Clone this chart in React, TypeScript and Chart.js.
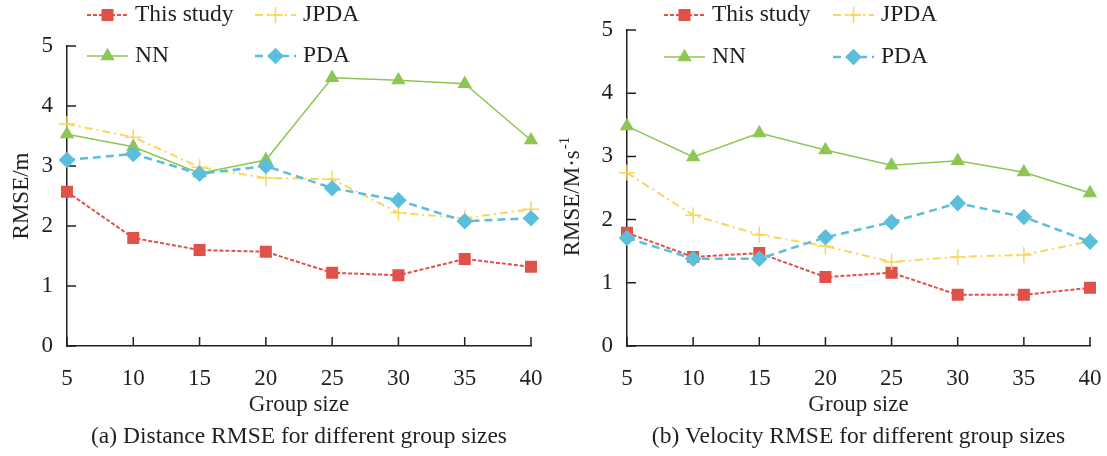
import React, { useEffect, useRef } from 'react';
import { Chart, registerables } from 'chart.js';
Chart.register(...registerables);

const groupSizes = ['5', '10', '15', '20', '25', '30', '35', '40'];
const seriesNames = ['This study', 'JPDA', 'NN', 'PDA'];

const distThisStudy = [2.57, 1.8, 1.6, 1.57, 1.22, 1.18, 1.45, 1.32];
const distJPDA = [3.7, 3.48, 2.98, 2.8, 2.78, 2.22, 2.13, 2.28];
const distNN = [3.53, 3.32, 2.88, 3.1, 4.47, 4.43, 4.37, 3.43];
const distPDA = [3.1, 3.2, 2.87, 3.0, 2.63, 2.43, 2.08, 2.13];

const velThisStudy = [1.79, 1.41, 1.47, 1.09, 1.16, 0.81, 0.81, 0.92];
const velJPDA = [2.74, 2.07, 1.76, 1.58, 1.33, 1.41, 1.44, 1.66];
const velNN = [3.48, 2.99, 3.37, 3.1, 2.86, 2.93, 2.75, 2.42];
const velPDA = [1.71, 1.38, 1.38, 1.72, 1.96, 2.26, 2.04, 1.65];

const FONT = '"Liberation Serif", "Times New Roman", serif';
const TEXT = '#231F20';
const FS = 23.5;

const styles = [
  { color: '#E0514A', dash: [4, 2], width: 2, point: 'rect', radius: 8.5, order: 3 },
  { color: '#FCD55A', dash: [8, 4, 2, 4], width: 2, point: 'cross', radius: 8, order: 2 },
  { color: '#8DC653', dash: [], width: 1.5, point: 'triangle', radius: 8.3, order: 1 },
  { color: '#5BBFDB', dash: [8, 5], width: 2.5, point: 'rectRot', radius: 8.3, order: 0 },
];

function drawMarker(ctx: CanvasRenderingContext2D, st: any, x: number, y: number) {
  const r = st.radius;
  ctx.save();
  ctx.setLineDash([]);
  ctx.fillStyle = st.color;
  ctx.strokeStyle = st.color;
  ctx.beginPath();
  if (st.point === 'rect') {
    const s = r * Math.SQRT1_2;
    ctx.rect(x - s, y - s, 2 * s, 2 * s);
    ctx.fill();
  } else if (st.point === 'rectRot') {
    ctx.moveTo(x, y - r);
    ctx.lineTo(x + r, y);
    ctx.lineTo(x, y + r);
    ctx.lineTo(x - r, y);
    ctx.closePath();
    ctx.fill();
  } else if (st.point === 'triangle') {
    ctx.moveTo(x, y - r);
    ctx.lineTo(x + 0.866 * r, y + 0.5 * r);
    ctx.lineTo(x - 0.866 * r, y + 0.5 * r);
    ctx.closePath();
    ctx.fill();
  } else {
    ctx.lineWidth = 1.5;
    ctx.moveTo(x, y - r);
    ctx.lineTo(x, y + r);
    ctx.moveTo(x - r, y);
    ctx.lineTo(x + r, y);
    ctx.stroke();
  }
  ctx.restore();
}

interface Spec {
  series: number[][];
  top: number;
  right: number;
  yWidth: number;
  yTitle: string;
  ySup?: string;
  yTitleX: number;
  yTitleY: number;
  legendX: number[];
  legendY: number[];
  caption: string;
}

function makeChart(canvas: HTMLCanvasElement, spec: Spec) {
  const decor = {
    id: 'decor',
    beforeDatasetsDraw(chart: any) {
      const ctx = chart.ctx as CanvasRenderingContext2D;
      const a = chart.chartArea;
      const xs = chart.scales.x;
      const ys = chart.scales.y;
      ctx.save();
      ctx.strokeStyle = TEXT;
      ctx.lineWidth = 1.5;
      ctx.beginPath();
      groupSizes.forEach((_, i) => {
        const px = xs.getPixelForValue(i);
        ctx.moveTo(px, a.bottom);
        ctx.lineTo(px, a.bottom - 9);
      });
      ys.ticks.forEach((t: any) => {
        const py = ys.getPixelForValue(t.value);
        ctx.moveTo(a.left, py);
        ctx.lineTo(a.left + 9, py);
      });
      ctx.stroke();
      ctx.restore();
    },
    afterDraw(chart: any) {
      const ctx = chart.ctx as CanvasRenderingContext2D;
      const a = chart.chartArea;
      const cx = (a.left + a.right) / 2;
      ctx.save();
      ctx.fillStyle = TEXT;
      ctx.textAlign = 'center';
      ctx.textBaseline = 'middle';
      ctx.font = `23px ${FONT}`;
      ctx.fillText('Group size', cx, 405);
      ctx.font = `${FS}px ${FONT}`;
      ctx.fillText(spec.caption, cx, 437);

      // y title
      ctx.save();
      ctx.translate(spec.yTitleX, spec.yTitleY);
      ctx.rotate(-Math.PI / 2);
      ctx.font = `23px ${FONT}`;
      const w1 = ctx.measureText(spec.yTitle).width;
      let w2 = 0;
      if (spec.ySup) {
        ctx.font = `15px ${FONT}`;
        w2 = ctx.measureText(spec.ySup).width;
        ctx.font = `23px ${FONT}`;
      }
      const start = -(w1 + w2) / 2;
      ctx.textAlign = 'left';
      ctx.fillText(spec.yTitle, start, 0);
      if (spec.ySup) {
        ctx.font = `15px ${FONT}`;
        ctx.fillText(spec.ySup, start + w1 + 1, -8);
      }
      ctx.restore();

      // legend
      seriesNames.forEach((name, i) => {
        const st = styles[i];
        const col = i % 2;
        const row = Math.floor(i / 2);
        const lx = spec.legendX[col];
        const ly = spec.legendY[row];
        ctx.save();
        ctx.strokeStyle = st.color;
        ctx.lineWidth = st.width;
        ctx.setLineDash(st.dash);
        ctx.beginPath();
        ctx.moveTo(lx, ly);
        ctx.lineTo(lx + 41, ly);
        ctx.stroke();
        ctx.restore();
        drawMarker(ctx, st, lx + 20.5, ly);
        ctx.font = `${FS}px ${FONT}`;
        ctx.textAlign = 'left';
        ctx.textBaseline = 'middle';
        ctx.fillStyle = TEXT;
        ctx.fillText(name, lx + 48, ly);
      });
      ctx.restore();
    },
  };

  return new Chart(canvas, {
    type: 'line',
    data: {
      labels: groupSizes,
      datasets: spec.series.map((vals, i) => ({
        label: seriesNames[i],
        data: vals,
        borderColor: styles[i].color,
        backgroundColor: styles[i].color,
        borderWidth: styles[i].width,
        borderDash: styles[i].dash,
        pointStyle: styles[i].point as any,
        pointRadius: styles[i].radius,
        pointBackgroundColor: styles[i].color,
        pointBorderColor: styles[i].color,
        pointBorderWidth: styles[i].point === 'cross' ? 1.5 : 0,
        fill: false,
        tension: 0,
        order: styles[i].order,
      })),
    },
    options: {
      responsive: false,
      animation: false,
      devicePixelRatio: 1,
      layout: { padding: { left: 0, right: spec.right, top: spec.top, bottom: 0 } },
      plugins: { legend: { display: false }, tooltip: { enabled: false }, title: { display: false } },
      scales: {
        x: {
          type: 'category',
          offset: false,
          grid: { display: false, drawTicks: false },
          border: { display: true, color: TEXT, width: 1.5 },
          ticks: { color: TEXT, font: { family: FONT, size: 23 }, padding: 19, autoSkip: false, maxRotation: 0 },
          afterFit: (s: any) => {
            s.height = 110;
            s.paddingLeft = 0;
            s.paddingRight = 0;
          },
        },
        y: {
          min: 0,
          max: 5,
          grid: { display: false, drawTicks: false },
          border: { display: true, color: TEXT, width: 1.5 },
          ticks: { stepSize: 1, color: TEXT, font: { family: FONT, size: 23 }, padding: 14 },
          afterFit: (s: any) => {
            s.width = spec.yWidth;
            s.paddingTop = 0;
            s.paddingBottom = 0;
          },
        },
      },
    } as any,
    plugins: [decor],
  });
}

export default function App() {
  const ref1 = useRef<HTMLCanvasElement>(null);
  const ref2 = useRef<HTMLCanvasElement>(null);
  useEffect(() => {
    const c1 = makeChart(ref1.current!, {
      series: [distThisStudy, distJPDA, distNN, distPDA],
      top: 46,
      right: 22,
      yWidth: 67,
      yTitle: 'RMSE/m',
      yTitleX: 22,
      yTitleY: 196,
      legendX: [87, 255],
      legendY: [15, 56],
      caption: '(a) Distance RMSE for different group sizes',
    });
    const c2 = makeChart(ref2.current!, {
      series: [velThisStudy, velJPDA, velNN, velPDA],
      top: 30,
      right: 17,
      yWidth: 74,
      yTitle: 'RMSE/M·s',
      ySup: '-1',
      yTitleX: 20,
      yTitleY: 197,
      legendX: [111, 280],
      legendY: [15, 57],
      caption: '(b) Velocity RMSE for different group sizes',
    });
    return () => {
      c1.destroy();
      c2.destroy();
    };
  }, []);
  return (
    <div style={{ position: 'absolute', left: 0, top: 0, width: 1107, height: 456, background: '#fff', overflow: 'hidden' }}>
      <canvas ref={ref1} width={553} height={456} style={{ position: 'absolute', left: 0, top: 0, width: 553, height: 456 }} />
      <canvas ref={ref2} width={554} height={456} style={{ position: 'absolute', left: 553, top: 0, width: 554, height: 456 }} />
    </div>
  );
}
